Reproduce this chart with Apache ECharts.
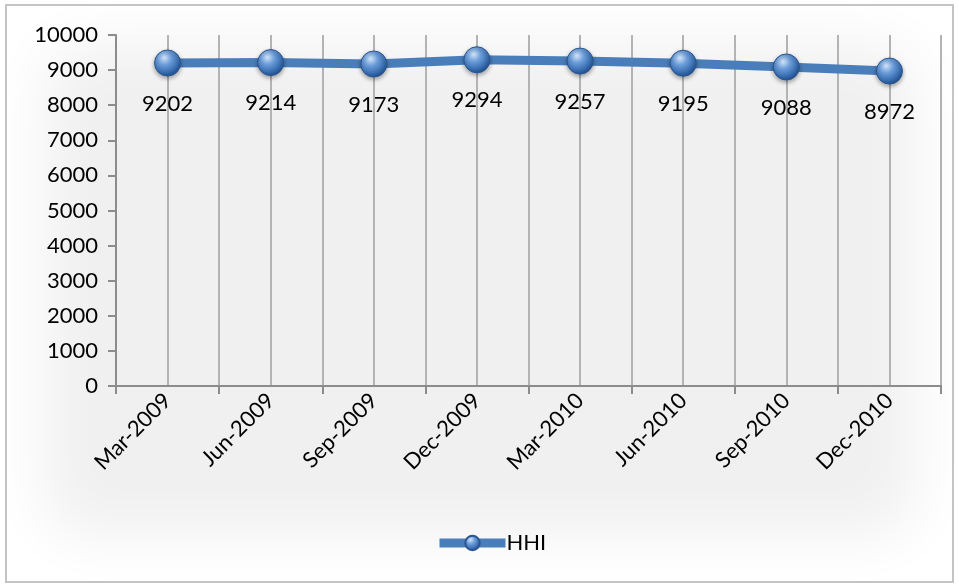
<!DOCTYPE html>
<html>
<head>
<meta charset="utf-8">
<script src="https://cdn.jsdelivr.net/npm/echarts@6/dist/echarts.min.js"></script>
<style>
  html, body { margin: 0; padding: 0; background: #fff; }
  #chart { width: 959px; height: 584px; }
</style>
</head>
<body>
<div id="chart"></div>
<script>
// Quarterly HHI values
const quarters = ['Mar-2009', 'Jun-2009', 'Sep-2009', 'Dec-2009', 'Mar-2010', 'Jun-2010', 'Sep-2010', 'Dec-2010'];
const hhi = [9202, 9214, 9173, 9294, 9257, 9195, 9088, 8972];
const seriesName = 'HHI';

// half-category slots, used only to draw vertical gridlines at centers and boundaries
const halfSlots = quarters.flatMap(q => [q + 'a', q + 'b']);

const FONT = 'Lato';
const sphere = {
  type: 'radial', x: 0.38, y: 0.3, r: 0.75,
  colorStops: [
    { offset: 0, color: '#d3e4f8' },
    { offset: 0.35, color: '#6d9edb' },
    { offset: 0.8, color: '#2f64a8' },
    { offset: 1, color: '#1e4a82' }
  ]
};

const SHIFT = 3000; // the panel is drawn off-canvas; only its soft shadow lands on the chart

const chart = echarts.init(document.getElementById('chart'));
chart.setOption({
  animation: false,
  backgroundColor: '#ffffff',
  graphic: [
    {
      type: 'rect', z: -10, silent: true,
      shape: { x: 45 - SHIFT, y: 45, width: 870, height: 490, r: 40 },
      style: { fill: '#f0f0f0', shadowBlur: 60, shadowColor: '#f0f0f0', shadowOffsetX: SHIFT }
    },
    {
      type: 'rect', z: -5, silent: true,
      shape: { x: 6, y: 5, width: 947, height: 577 },
      style: { fill: 'none', stroke: '#c4c4c4', lineWidth: 2 }
    }
  ],
  grid: { left: 116, right: 18, top: 35, bottom: 198 },
  legend: {
    bottom: 25, left: 430,
    itemWidth: 66, itemHeight: 18, itemGap: 0,
    textStyle: { fontFamily: FONT, fontSize: 22, color: '#000', padding: [0, 0, 0, -4] },
    lineStyle: { width: 9 },
    data: [seriesName]
  },
  xAxis: [
    {
      type: 'category', data: quarters, boundaryGap: true,
      axisLine: { lineStyle: { color: '#8c8c8c', width: 2 } },
      axisTick: { show: true, length: 8, lineStyle: { color: '#8c8c8c', width: 2 } },
      axisLabel: { rotate: 45, fontFamily: FONT, fontSize: 22, color: '#000', margin: 11 },
      splitLine: { show: false }
    },
    {
      type: 'category', data: halfSlots, boundaryGap: true, position: 'bottom',
      axisLine: { show: false },
      axisTick: { show: false, interval: 0 },
      axisLabel: { show: false, interval: 0 },
      splitLine: { show: true, interval: 0, lineStyle: { color: '#b3b3b3', width: 2 } }
    }
  ],
  yAxis: {
    type: 'value', min: 0, max: 10000, interval: 1000,
    axisLine: { show: true, lineStyle: { color: '#8c8c8c', width: 2 } },
    axisTick: { show: true, length: 8, lineStyle: { color: '#8c8c8c', width: 2 } },
    axisLabel: { fontFamily: FONT, fontSize: 22, color: '#000', margin: 18, formatter: v => String(v) },
    splitLine: { show: false }
  },
  series: [{
    name: seriesName, type: 'line', xAxisIndex: 0, data: hhi,
    symbol: 'circle', symbolSize: 26,
    lineStyle: { color: '#4a7ebb', width: 9 },
    itemStyle: {
      color: sphere, borderColor: '#2a5590', borderWidth: 1,
      shadowBlur: 4, shadowColor: 'rgba(0,0,0,0.35)', shadowOffsetY: 2
    },
    label: {
      show: true, position: 'bottom', distance: 16,
      fontFamily: FONT, fontSize: 22, color: '#000'
    },
    z: 5
  }]
});
</script>
</body>
</html>
